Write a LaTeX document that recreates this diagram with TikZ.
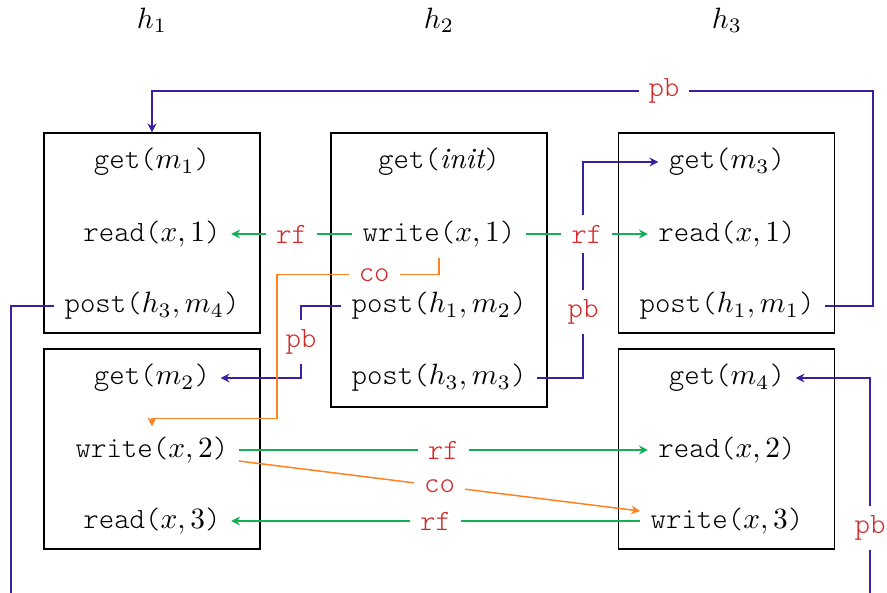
\documentclass[tikz,border=0pt]{standalone}
\usepackage{fontspec}
\setmonofont{Latin Modern Mono Light}
\usetikzlibrary{arrows.meta,calc}
\definecolor{rfgreen}{RGB}{20,175,85}
\definecolor{coorange}{RGB}{255,128,30}
\definecolor{pbblue}{RGB}{60,30,160}
\definecolor{labred}{RGB}{210,40,40}
\tikzset{
  ev/.style={inner sep=3.4pt, font=\ttfamily},
  hbox/.style={draw, line width=0.5pt, minimum width=73.44pt},
  tip/.style={-{Stealth[length=3pt,width=3pt,inset=1pt]}},
  rfl/.style={tip, rfgreen, line width=0.5pt},
  col/.style={tip, coorange, line width=0.5pt},
  pbl/.style={tip, pbblue, line width=0.5pt},
  lab/.style={fill=white, text=labred, font=\ttfamily, inner sep=3.4pt}
}
\begin{document}
\begin{tikzpicture}[x=0.34pt, y=-0.34pt]
\useasboundingbox (0,0) rectangle (887,592);
\clip (0,0) rectangle (887,592);

% thread headings
\node (t1) at (152,20) {$h_1$};
\node (t2) at (439,20) {$h_2$};
\node (t3) at (727,20) {$h_3$};

% handler boxes
\node[hbox, minimum height=68pt]    (box1) at (152,233) {};
\node[hbox, minimum height=93.16pt] (box2) at (439,270) {};
\node[hbox, minimum height=68pt]    (box3) at (726.5,233) {};
\node[hbox, minimum height=68pt]    (box4) at (152,449) {};
\node[hbox, minimum height=68pt]    (box5) at (726.5,449) {};

% events of h1
\node[ev] (b1g) at (152,162) {get($m_1$)};
\node[ev] (b1r) at (152,234) {read($x,1$)};
\node[ev] (b1p) at (152,306) {post($h_3,m_4$)};
% events of h2
\node[ev] (b2g) at (439,162) {get($\mathit{init}$)};
\node[ev] (b2w) at (439,234) {write($x,1$)};
\node[ev] (b2p1) at (439,306) {post($h_1,m_2$)};
\node[ev] (b2p3) at (439,378) {post($h_3,m_3$)};
% events of h3
\node[ev] (b3g) at (727,162) {get($m_3$)};
\node[ev] (b3r) at (727,234) {read($x,1$)};
\node[ev] (b3p) at (727,306) {post($h_1,m_1$)};
% second handler of h1
\node[ev] (b4g) at (152,378) {get($m_2$)};
\node[ev] (b4w) at (152,450) {write($x,2$)};
\node[ev] (b4r) at (152,521) {read($x,3$)};
% second handler of h3
\node[ev] (b5g) at (727,378) {get($m_4$)};
\node[ev] (b5r) at (727,450) {read($x,2$)};
\node[ev] (b5w) at (727,521) {write($x,3$)};

% program-order posts (pb)
\draw[pbl] (b2p1.west) -- ++(-40,0) |- node[lab,pos=0.25]{pb} (b4g.east);
\draw[pbl] (b2p3.east) -- ++(46,0) |- node[lab,pos=0.153]{pb} (b3g.west);
\draw[pbl] (b3p.east) -- ++(48,0) coordinate (c6) -- (c6 |- 0,91)
  -- node[lab,pos=0.29]{pb} (box1.north |- 0,91) -- (box1.north);
\draw[pbl] (b1p.west) -- ++(-43,0) coordinate (c7) -- (c7 |- 0,615)
  -- (870,615) -- node[lab,pos=0.367]{pb} (b5g.east -| 870,0) -- (b5g.east);

% coherence order (co)
\draw[col] (b2w.south) -- ++(0,17) -- node[lab,pos=0.4]{co} ++(-162,0)
  -- ++(0,144) -| (b4w.north);
\draw[col] ([yshift=-11*0.34pt]b4w.east) -- node[lab]{co} ([yshift=10*0.34pt]b5w.west);

% reads-from (rf)
\draw[rfl] (b2w.west) -- node[lab]{rf} (b1r.east);
\draw[rfl] (b2w.east) -- node[lab]{rf} (b3r.west);
\draw[rfl] (b4w.east) -- node[lab]{rf} (b5r.west);
\draw[rfl] (b5w.west) -- node[lab]{rf} (b4r.east);
\end{tikzpicture}
\end{document}
